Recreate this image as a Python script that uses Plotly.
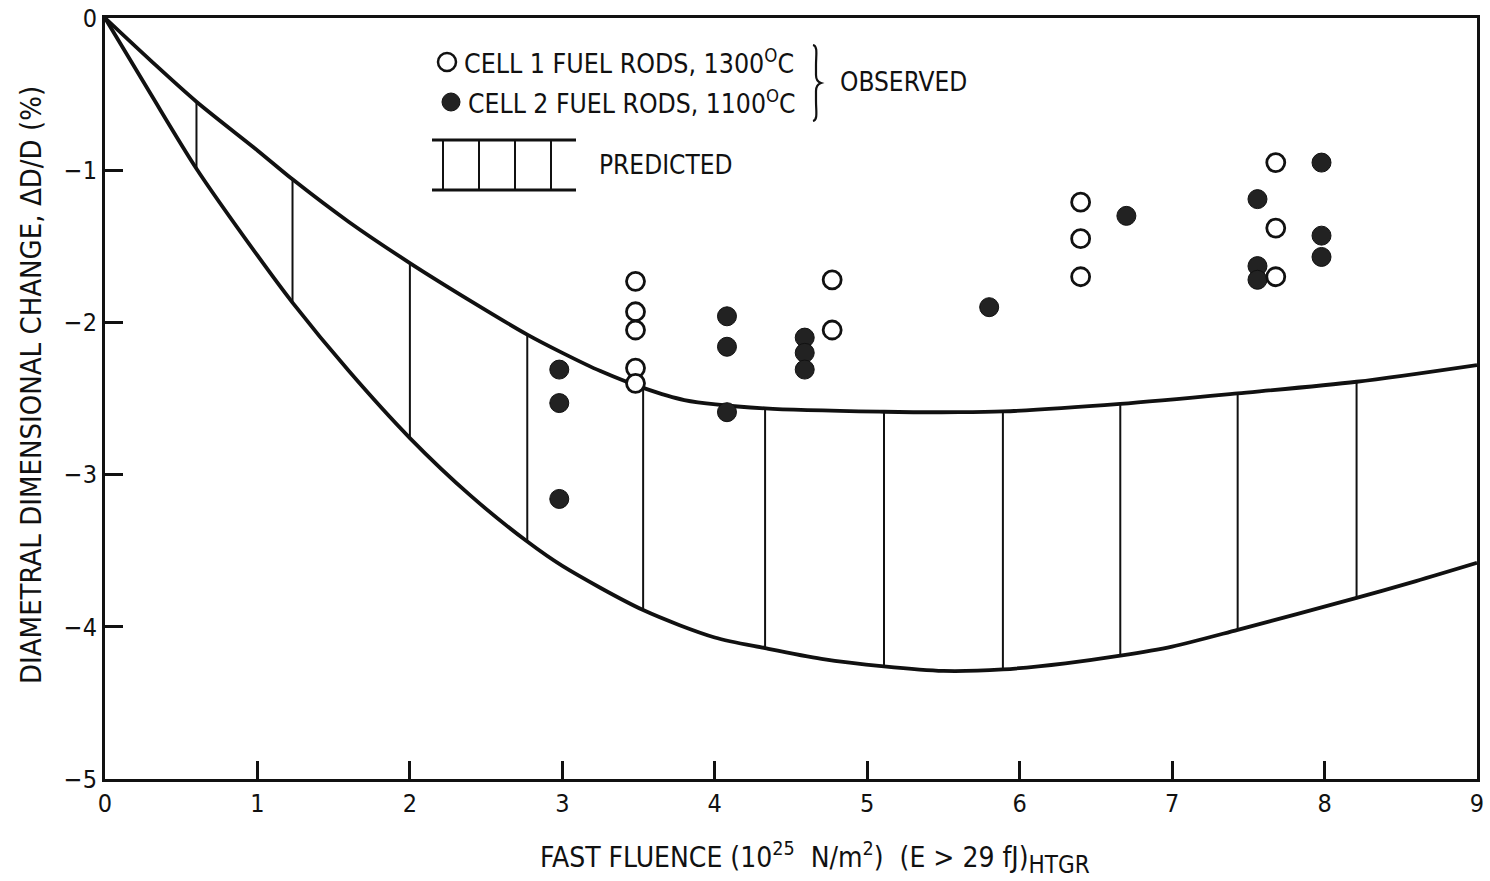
import numpy as np
import plotly.graph_objects as go

# Predicted band: upper and lower envelope curves (fluence in 1e25 n/m^2, change in %)
upper_x = [0, 0.3, 0.6, 1.0, 1.23, 1.6, 2.0, 2.4, 2.77, 3.0, 3.25, 3.53, 3.8,
           4.33, 5.11, 5.6, 5.89, 6.66, 7.43, 8.21, 9.0]
upper_y = [0, -0.28, -0.55, -0.87, -1.06, -1.34, -1.61, -1.86, -2.08, -2.20, -2.32,
           -2.43, -2.51, -2.565, -2.587, -2.59, -2.585, -2.535, -2.466, -2.39, -2.28]
lower_x = [0, 0.3, 0.6, 1.0, 1.23, 1.6, 2.0, 2.4, 2.77, 3.0, 3.53, 4.0, 4.33, 4.7,
           5.11, 5.5, 5.89, 6.3, 6.66, 7.0, 7.43, 8.21, 8.6, 9.0]
lower_y = [0, -0.50, -0.99, -1.56, -1.87, -2.32, -2.76, -3.14, -3.44, -3.60, -3.89,
           -4.07, -4.14, -4.21, -4.26, -4.29, -4.28, -4.24, -4.19, -4.13, -4.02,
           -3.81, -3.70, -3.58]
# Fluence values of the vertical hatch lines inside the band
hatch_x = [0.6, 1.23, 2.0, 2.77, 3.53, 4.33, 5.11, 5.89, 6.66, 7.43, 8.21]

# Observed diameter changes
cell1_x = [3.48, 3.48, 3.48, 3.48, 3.48, 4.77, 4.77, 6.40, 6.40, 6.40, 7.68, 7.68, 7.68]
cell1_y = [-1.73, -1.93, -2.05, -2.30, -2.40, -1.72, -2.05, -1.21, -1.45, -1.70,
           -0.95, -1.38, -1.70]
cell2_x = [2.98, 2.98, 2.98, 4.08, 4.08, 4.08, 4.59, 4.59, 4.59, 5.80, 6.70,
           7.56, 7.56, 7.56, 7.98, 7.98, 7.98]
cell2_y = [-2.31, -2.53, -3.16, -1.96, -2.16, -2.59, -2.10, -2.20, -2.31, -1.90,
           -1.30, -1.19, -1.63, -1.72, -0.95, -1.43, -1.57]

x_ticks = [0, 1, 2, 3, 4, 5, 6, 7, 8, 9]
y_ticks = [0, -1, -2, -3, -4, -5]
y_tick_text = ["0", "\u22121", "\u22122", "\u22123", "\u22124", "\u22125"]

FONT = "Liberation Sans Narrow, DejaVu Sans Condensed, Arial Narrow, Roboto, sans-serif"
INK = "#111111"

fig = go.Figure()

# band envelopes
for cx, cy in ((upper_x, upper_y), (lower_x, lower_y)):
    fig.add_trace(go.Scatter(x=cx, y=cy, mode="lines",
                             line=dict(color=INK, width=3.8, shape="spline", smoothing=0.8),
                             hoverinfo="skip"))

# hatch lines between the envelopes
hx, hy = [], []
top = np.interp(hatch_x, upper_x, upper_y)
bot = np.interp(hatch_x, lower_x, lower_y)
for xv, t, b in zip(hatch_x, top, bot):
    hx += [xv, xv, None]
    hy += [t, b, None]
fig.add_trace(go.Scatter(x=hx, y=hy, mode="lines",
                         line=dict(color=INK, width=2), hoverinfo="skip"))

# observed points
fig.add_trace(go.Scatter(x=cell2_x, y=cell2_y, mode="markers",
                         marker=dict(size=19, color="#222222",
                                     line=dict(color=INK, width=1))))
fig.add_trace(go.Scatter(x=cell1_x, y=cell1_y, mode="markers",
                         marker=dict(size=18, color="white",
                                     line=dict(color=INK, width=2.8))))

# plot area in page pixels, used to place the hand-built key and titles
L, T, R, B = 105, 18, 1477, 779


def pp(xp, yp):
    return (xp - L) / (R - L), (B - yp) / (B - T)


shapes = []
annotations = []

# key: open / filled circles
for (cx, cy), fill in [((447, 62), "white"), ((451, 102), "#222222")]:
    ax, ay = pp(cx, cy)
    shapes.append(dict(type="circle", xref="paper", yref="paper",
                       xsizemode="pixel", ysizemode="pixel",
                       xanchor=ax, yanchor=ay, x0=-9, x1=9, y0=-9, y1=9,
                       fillcolor=fill, line=dict(color=INK, width=2.5 if fill == "white" else 1)))

for (tx, ty), txt, fs in [((462, 62), "CELL 1 FUEL RODS, 1300<sup>O</sup>C", 26.5),
                          ((466, 102), "CELL 2 FUEL RODS, 1100<sup>O</sup>C", 26.3),
                          ((838, 82), "OBSERVED", 26),
                          ((597, 165), "PREDICTED", 26)]:
    ax, ay = pp(tx, ty)
    annotations.append(dict(xref="paper", yref="paper", x=ax, y=ay, text=txt,
                            showarrow=False, xanchor="left", yanchor="middle",
                            font=dict(family=FONT, size=fs, color=INK)))

# brace grouping the two observed entries
bx, by = pp(814, 83)
shapes.append(dict(type="path", xref="paper", yref="paper",
                   xsizemode="pixel", ysizemode="pixel", xanchor=bx, yanchor=by,
                   path="M -1,38 C 4,37 2,28 2,18 L 2,8 C 2,3 4,1 7,0 "
                        "C 4,-1 2,-3 2,-8 L 2,-18 C 2,-28 4,-37 -1,-38",
                   line=dict(color=INK, width=2.2)))

# key: hatched band sample
for y0 in (140, 190):
    a, b0 = pp(432, y0)
    c, _ = pp(576, y0)
    shapes.append(dict(type="line", xref="paper", yref="paper", x0=a, x1=c, y0=b0, y1=b0,
                       line=dict(color=INK, width=3)))
for xv in (443, 479, 515, 551):
    a, b0 = pp(xv, 140)
    _, b1 = pp(xv, 190)
    shapes.append(dict(type="line", xref="paper", yref="paper", x0=a, x1=a, y0=b0, y1=b1,
                       line=dict(color=INK, width=2)))

# axis titles
tx, ty = pp(815, 858)
annotations.append(dict(
    xref="paper", yref="paper", x=tx, y=ty, xanchor="center", yanchor="middle",
    showarrow=False,
    text=("FAST FLUENCE (10<sup>25</sup>  N/m<sup>2</sup>)  (E &gt; 29 fJ)"
          "<sub><span style=\"font-size:24px\">HTGR</span></sub>"),
    font=dict(family=FONT, size=28, color=INK)))
tx, ty = pp(31, 385)
annotations.append(dict(
    xref="paper", yref="paper", x=tx, y=ty, xanchor="center", yanchor="middle",
    showarrow=False, textangle=-90,
    text="DIAMETRAL DIMENSIONAL CHANGE, \u0394D/D (%)",
    font=dict(family=FONT, size=29, color=INK)))

axis_common = dict(showline=True, linecolor=INK, linewidth=3, mirror=True,
                   ticks="inside", ticklen=18, tickwidth=2.5, tickcolor=INK,
                   showgrid=False, zeroline=False, automargin=False,
                   tickfont=dict(family=FONT, size=25, color=INK))

fig.update_layout(
    width=1490, height=881,
    margin=dict(l=L, r=1490 - R, t=T, b=881 - B),
    paper_bgcolor="white", plot_bgcolor="white",
    showlegend=False,
    shapes=shapes, annotations=annotations,
    xaxis=dict(range=[0, 9], tickvals=x_ticks, ticktext=[str(v) for v in x_ticks],
               **axis_common),
    yaxis=dict(range=[-5, 0], tickvals=y_ticks, ticktext=y_tick_text,
               **axis_common),
)

fig.write_html("out.html")
